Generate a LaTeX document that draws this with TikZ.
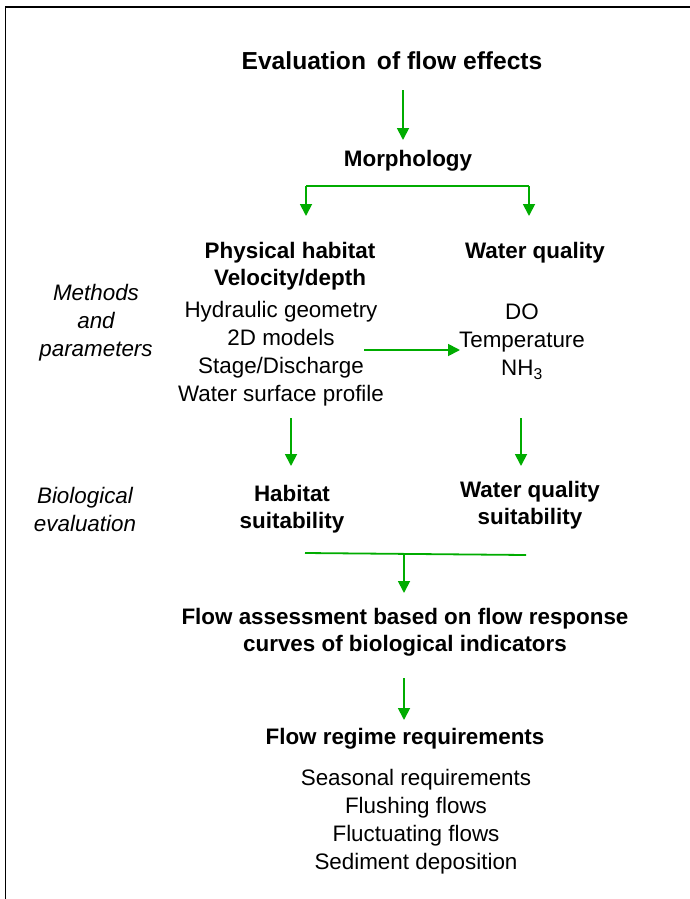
\documentclass[tikz,border=0pt]{standalone}
\usepackage{fontspec}
\setmainfont{Liberation Sans}
\usepackage{xcolor}
\usepackage{tikz}
\usetikzlibrary{arrows.meta,positioning}

\definecolor{flowgreen}{RGB}{0,172,0}

\begin{document}
\begin{tikzpicture}[
    x=1pt, y=-1pt,
    txt/.style={inner sep=0pt, align=center, font=\fontsize{22.4}{28}\selectfont},
    head/.style={txt, font=\fontsize{22.4}{27.5}\selectfont\bfseries},
    side/.style={txt, font=\fontsize{22.4}{28}\selectfont\itshape},
    link/.style={draw=flowgreen, line width=1.8pt},
    arrow/.style={link, -{Triangle[length=12pt, width=12pt]}}
]
    \useasboundingbox (0,0) rectangle (690,899);
    % frame (cut at right and bottom)
    \draw[line width=1.6pt] (690,7) -- (5.5,7) -- (5.5,899);

    \node[head, font=\fontsize{24.6}{30}\selectfont\bfseries] (title) at (392,61) {Evaluation\, of flow effects};
    \node[head] (morph) at (408,161) {Morphology};
    \node[head] (physhab) at (290,266) {Physical habitat\\Velocity/depth};
    \node[head] (wq) at (535,253) {Water quality};
    \node[side] (methods) at (96,323) {Methods\\and\\parameters};
    \node[txt] (hydr) at (281,354) {Hydraulic geometry\\2D models\\Stage/Discharge\\Water surface profile};
    \node[txt] (wqpar) at (522,342) {DO\\Temperature\\NH\textsubscript{3}};
    \node[side] (bio) at (85,509) {Biological\\evaluation};
    \node[head] (habsuit) at (292,509) {Habitat\\suitability};
    \node[head] (wqsuit) at (530,505) {Water quality\\suitability};
    \node[head] (assess) at (405,632) {Flow assessment based on flow response\\curves of biological indicators};
    \node[head] (regime) at (405,739) {Flow regime requirements};
    \node[txt] (reqs) at (416,822) {Seasonal requirements\\Flushing flows\\Fluctuating flows\\Sediment deposition};

    % arrow ends
    \coordinate (titleout) at (403,90);
    \coordinate (morphin) at (403,140);
    \coordinate (brL) at (306,186);
    \coordinate (brR) at (529,186);
    \coordinate (physin) at (306,216);
    \coordinate (wqin) at (529,216);
    \coordinate (hydrout) at (364,350);
    \coordinate (wqparin) at (460,350);
    \coordinate (hydrdown) at (291,418);
    \coordinate (habin) at (291,466);
    \coordinate (wqdown) at (521,418);
    \coordinate (wqsuitin) at (521,466);
    \coordinate (barL) at (305,553);
    \coordinate (barR) at (526,555);
    \coordinate (barmid) at (404,554);
    \coordinate (assessin) at (404,593);
    \coordinate (assessout) at (404,678);
    \coordinate (regimein) at (404,720);

    \draw[arrow] (titleout) -- (morphin);
    \draw[link] (brL) -- (brR);
    \draw[arrow] (brL) -- (physin);
    \draw[arrow] (brR) -- (wqin);
    \draw[arrow] (hydrout) -- (wqparin);
    \draw[arrow] (hydrdown) -- (habin);
    \draw[arrow] (wqdown) -- (wqsuitin);
    \draw[link] (barL) -- (barR);
    \draw[arrow] (barmid) -- (assessin);
    \draw[arrow] (assessout) -- (regimein);
\end{tikzpicture}
\end{document}
